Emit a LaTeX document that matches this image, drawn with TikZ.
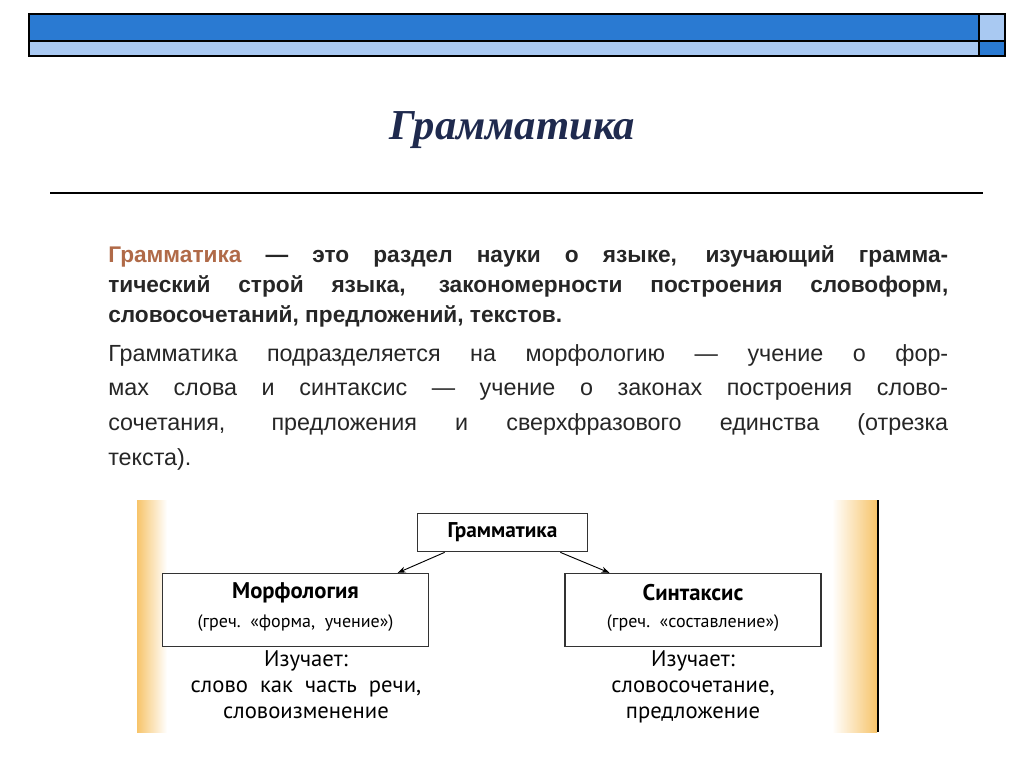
\documentclass[tikz,border=0pt]{standalone}
\usepackage{fontspec}
\usetikzlibrary{arrows.meta}
\setmainfont{Liberation Sans}
\newfontfamily\titlefont{Liberation Serif}
\newfontfamily\diagfont{PT Sans}
\definecolor{dkblue}{HTML}{2A7AD2}
\definecolor{ltblue}{HTML}{A9C9F2}
\definecolor{navy}{HTML}{1F2A4E}
\definecolor{brown}{HTML}{B06A48}
\definecolor{orng}{HTML}{F7C46A}
\begin{document}
\begin{tikzpicture}[x=0.75pt,y=-0.75pt,
  box/.style={draw=black!80,line width=0.8pt,fill=white},
  arr/.style={-{Stealth[length=6pt]},line width=0.7pt}]
\useasboundingbox (0,0) rectangle (1024,767);
% header
\fill[dkblue] (29,14) rectangle (979,41);
\fill[ltblue] (29,41) rectangle (979,56);
\fill[ltblue] (979,14) rectangle (1005,41);
\fill[dkblue] (979,41) rectangle (1005,56);
\draw[line width=1pt] (29,14) rectangle (1005,56);
\draw[line width=1pt] (29,41) -- (1005,41) (979,14) -- (979,56);
% title
\node[font=\titlefont\bfseries\itshape\fontsize{32}{36}\selectfont,text=navy] (title) at (512,130) {Грамматика};
\draw[line width=0.8pt] (50,193) -- (983,193);
% paragraphs
\node[anchor=north west,text width=630pt,align=justify,inner sep=0pt,font=\bfseries\fontsize{17}{22.5}\selectfont,text=black!85] (p1) at (108,245)
{\textcolor{brown}{Грамматика} — это раздел науки о языке, изучающий грамма-\linebreak тический строй языка, закономерности построения словоформ,\linebreak словосочетаний, предложений, текстов.};
\node[anchor=north west,text width=630pt,align=justify,inner sep=0pt,font=\fontsize{17.5}{26}\selectfont,text=black!85] (p2) at (108,344)
{\hspace*{0pt}Грамматика подразделяется на морфологию — учение о фор-\linebreak мах слова и синтаксис — учение о законах построения слово-\linebreak сочетания, предложения и сверхфразового единства (отрезка\linebreak текста).};
% diagram background
\fill[white] (137,500) rectangle (878,732);
\shade[left color=orng,right color=white] (137,500) rectangle (167,732);
\shade[left color=white,right color=orng] (832,500) rectangle (877,732);
\draw[line width=1.2pt] (878,500) -- (878,732);
\begin{scope}[font=\diagfont]
\node[box,minimum width=128pt,minimum height=29pt,font=\diagfont\bfseries\fontsize{16}{18}\selectfont] (g) at (502.5,532.5) {Грамматика};
\node[box,minimum width=199pt,minimum height=55pt] (m) at (295.5,610) {};
\node[box,minimum width=192pt,minimum height=55pt] (s) at (693,610) {};
\node[font=\diagfont\bfseries\fontsize{17}{19}\selectfont] (mt) at (295.5,593) {Морфология};
\node[font=\diagfont\fontsize{13.5}{15}\selectfont] (ms) at (295.5,623) {(греч.\ \ «форма,\ \ учение»)};
\node[font=\diagfont\bfseries\fontsize{17}{19}\selectfont] (st) at (693,593) {Синтаксис};
\node[font=\diagfont\fontsize{13.5}{15}\selectfont] (ss) at (693,623) {(греч.\ \ «составление»)};
\node[font=\diagfont\fontsize{17}{19.5}\selectfont,align=center,anchor=north] (mi) at (306,646) {Изучает:\\слово\ \ как\ \ часть\ \ речи,\\словоизменение};
\node[font=\diagfont\fontsize{17}{19.5}\selectfont,align=center,anchor=north] (si) at (693,646) {Изучает:\\словосочетание,\\предложение};
\end{scope}
\draw[arr] ([xshift=21pt]g.south west) -- ([xshift=-23.25pt]m.north east);
\draw[arr] ([xshift=-21pt]g.south east) -- ([xshift=33.75pt]s.north west);
\end{tikzpicture}
\end{document}
